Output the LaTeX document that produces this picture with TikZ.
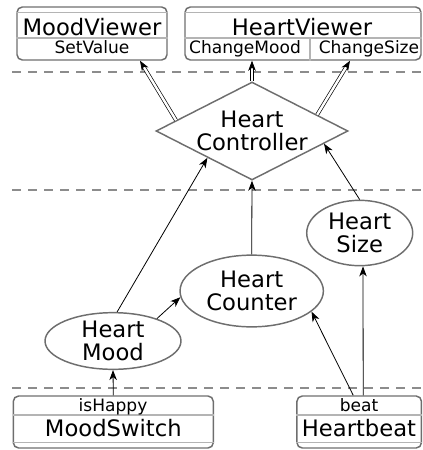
\documentclass[tikz,border=0pt]{standalone}
\usepackage{fontspec}
\setmainfont{DejaVu Sans}
\usetikzlibrary{shapes.geometric,arrows.meta,calc}
\definecolor{edgegray}{HTML}{6E6E6E}
\definecolor{dashgray}{HTML}{8C8C8C}
\definecolor{rulegray}{HTML}{B4B4B4}
\newcommand\bigtxt{\fontsize{17}{17.5}\selectfont}
\newcommand\smalltxt{\fontsize{12.8}{13}\selectfont}

\begin{document}
\begin{tikzpicture}[x=0.75pt,y=-0.75pt,>={Stealth[length=7.5pt,width=5.6pt,inset=2.2pt]},
  frame/.style={draw=edgegray,line width=1.1pt,rounded corners=4pt,inner sep=0pt},
  blob/.style={ellipse,draw=edgegray,line width=1.1pt,inner sep=0pt},
  rule/.style={draw=rulegray,line width=0.9pt},
  sep/.style={draw=dashgray,line width=1.1pt,dash pattern=on 6.75pt off 5.25pt},
  title/.style={anchor=base,inner sep=0pt,font=\bigtxt},
  slot/.style={anchor=base,inner sep=0pt,font=\smalltxt},
  lbl/.style={align=center,inner sep=0pt,font=\bigtxt},
  conn/.style={line width=0.6pt},
  dbl/.style={line width=0.5pt,double,double distance=1.8pt}]
  \useasboundingbox (0,0) rectangle (422,450);
% layer separators
  \draw[sep] (12,72) -- (422,72);
  \draw[sep] (12,190) -- (422,190);
  \draw[sep] (12,388) -- (422,388);
% viewers
  \node[frame,minimum width=112.5pt,minimum height=39.75pt] (mv) at (92,33.5) {};
  \draw[rule] ($(mv.north west)+(0,6)$) -- ($(mv.north east)+(0,6)$);
  \draw[rule] ($(mv.west)+(0,4.5)$) -- ($(mv.east)+(0,4.5)$);
  \node[title] (mvname) at (92,35) {MoodViewer};
  \node[slot] (mvset) at (92,53.3) {SetValue};
  \node[frame,minimum width=177pt,minimum height=39.75pt] (hv) at (303,33.5) {};
  \draw[rule] ($(hv.north west)+(0,6)$) -- ($(hv.north east)+(0,6)$);
  \draw[rule] ($(hv.west)+(0,4.5)$) -- ($(hv.east)+(0,4.5)$);
  \draw[rule] ($(hv.south)+(7,0)$) -- ($(hv.center)+(7,4.5)$);
  \node[title] (hvname) at (302,35) {HeartViewer};
  \node[slot] (hvmood) at (245,53.3) {ChangeMood};
  \node[slot] (hvsize) at (369,53.3) {ChangeSize};
% controller
  \node[diamond,draw=edgegray,line width=1.1pt,inner sep=0pt,
    minimum width=144pt,minimum height=73.5pt] (ctrl) at (252,131) {};
  \node[lbl] at (ctrl) {Heart\\Controller};
% models
  \node[blob,minimum width=79.5pt,minimum height=49pt] (size) at (359.7,233) {};
  \node[lbl] at (size) {Heart\\Size};
  \node[blob,minimum width=107.5pt,minimum height=53.8pt] (counter) at (251.7,291) {};
  \node[lbl] at (counter) {Heart\\Counter};
  \node[blob,minimum width=102pt,minimum height=42.5pt] (mood) at (113,341) {};
  \node[lbl] at (mood) {Heart\\Mood};
% sources
  \node[frame,minimum width=150pt,minimum height=39pt] (ms) at (113.3,422) {};
  \draw[rule] ($(ms.west)+(0,-7)$) -- ($(ms.east)+(0,-7)$);
  \draw[rule] ($(ms.south west)+(0,-6)$) -- ($(ms.south east)+(0,-6)$);
  \node[slot] (mshappy) at (113,411.7) {isHappy};
  \node[title] (msname) at (113.3,436) {MoodSwitch};
  \node[frame,minimum width=93.4pt,minimum height=39pt] (hb) at (359.2,422) {};
  \draw[rule] ($(hb.west)+(0,-7)$) -- ($(hb.east)+(0,-7)$);
  \draw[rule] ($(hb.south west)+(0,-6)$) -- ($(hb.south east)+(0,-6)$);
  \node[slot] (hbbeat) at (359,411.7) {beat};
  \node[title] (hbname) at (359,436) {Heartbeat};
% connectors
  \draw[dbl,->] (ctrl.172) -- ($(mv.south)+(48,0)$);
  \draw[dbl,->] (ctrl.north) -- (ctrl.north |- hv.south);
  \draw[dbl,->] (ctrl.14) -- ($(hv.south)+(47,0)$);
  \draw[conn,->] (mood.82) -- (ctrl.211);
  \draw[conn,->] (counter.north) -- (ctrl.south);
  \draw[conn,->] (size.north) -- (ctrl.-10);
  \draw[conn,->] (mood.27) -- (counter.185);
  \draw[conn,->] (ms.north) -- (mood.south);
  \draw[conn,->] ($(hb.north)+(-6,0)$) -- (counter.-19);
  \draw[conn,->] ($(hb.north)+(4,0)$) -- ($(size.south)+(3.3,0)$);
\end{tikzpicture}
\end{document}
